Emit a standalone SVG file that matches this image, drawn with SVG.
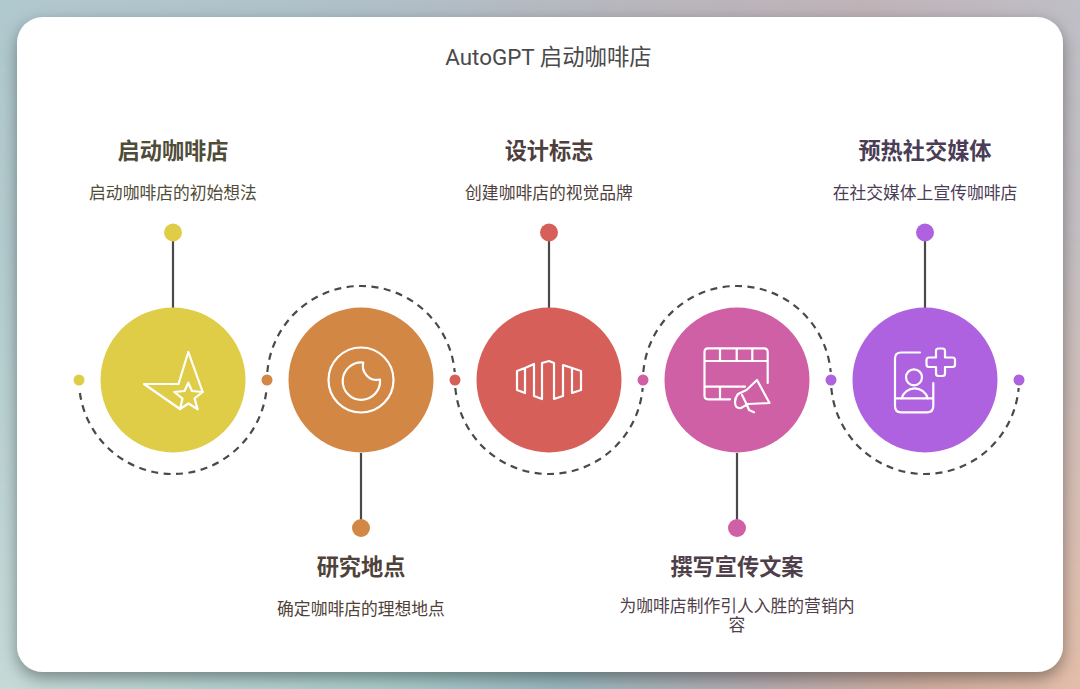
<svg xmlns="http://www.w3.org/2000/svg" width="1080" height="689" viewBox="0 0 1080 689">
<style>
text{font-family:"Roboto","Noto Sans CJK SC",sans-serif;text-anchor:middle}
.t{font-size:22.2px;font-weight:700}
.d{font-size:16.8px}
.st{fill:none;stroke:#fff;stroke-width:2.2;stroke-linejoin:round;stroke-linecap:round}
.arc{fill:none;stroke:#4a4a4a;stroke-width:2.2;stroke-dasharray:7 5.500}
.stem{stroke:#4a4a4a;stroke-width:2.2}
</style>
<defs>
<linearGradient id="bg" x1="0" y1="0" x2="1" y2="0">
<stop offset="0" stop-color="#b0c9ce"/><stop offset=".35" stop-color="#b0bfc8"/><stop offset=".6" stop-color="#b8b6bc"/><stop offset=".8" stop-color="#bfb3b8"/><stop offset="1" stop-color="#bfbfc6"/>
</linearGradient>
<linearGradient id="bg2" x1="0" y1="0" x2="1" y2="0">
<stop offset="0" stop-color="#c5dad7"/><stop offset=".35" stop-color="#a9cdcb"/><stop offset=".52" stop-color="#98b8bf"/><stop offset=".7" stop-color="#b4abb0"/><stop offset=".85" stop-color="#d0ae9f"/><stop offset="1" stop-color="#e3bda8"/>
</linearGradient>
<linearGradient id="fade" x1="0" y1="0" x2="0" y2="1"><stop offset="0" stop-color="#000"/><stop offset=".35" stop-color="#222"/><stop offset="1" stop-color="#fff"/></linearGradient>
<mask id="m"><rect width="1080" height="689" fill="url(#fade)"/></mask>
<filter id="sh" x="-5%" y="-5%" width="110%" height="110%"><feDropShadow dx="0" dy="6" stdDeviation="8" flood-color="#000" flood-opacity=".38"/></filter>
</defs>
<rect width="1080" height="689" fill="url(#bg)"/>
<rect width="1080" height="689" fill="url(#bg2)" mask="url(#m)"/>
<rect x="17" y="17" width="1046" height="655" rx="26" fill="#fff" filter="url(#sh)"/>
<text x="548.500" y="65" font-size="22.400" fill="#4a4a4a">AutoGPT 启动咖啡店</text>
<g id="connectors">
<path class="arc" d="M79.900 393A94 94 0 0 0 266.660 388"/>
<path class="arc" d="M267.340 372A94 94 0 0 1 454.660 372"/>
<path class="arc" d="M455.340 388A94 94 0 0 0 642.660 388"/>
<path class="arc" d="M643.340 372A94 94 0 0 1 830.660 372"/>
<path class="arc" d="M831.340 388A94 94 0 0 0 1018.660 388"/>
<path class="stem" d="M173 232V308M361 453V528M549 232V308M737 453V528M925 232V308"/>
</g>
<g id="node1">
<circle cx="79" cy="380" r="5.500" fill="#dfcd48"/>
<circle cx="173" cy="232.500" r="9" fill="#dfcd48"/>
<circle cx="173" cy="380" r="72.500" fill="#dfcd48"/>
<path class="st" d="M178.500 384H144L180 409M178.500 384L188.300 352L202.700 392"/>
<path class="st" d="M188.300 382.700L192 391L202.500 392L194.500 398.500L197.700 409.300L188.500 403.500L180 409L182.500 398.500L174.300 392L184.500 391Z"/>
<text class="t" x="173" y="159" fill="#4f4c38">启动咖啡店</text>
<text class="d" x="173" y="198.500" fill="#4f4c38">启动咖啡店的初始想法</text>
</g>
<g id="node2">
<circle cx="267" cy="380" r="5.500" fill="#d38745"/>
<circle cx="361" cy="528" r="9" fill="#d38745"/>
<circle cx="361" cy="380" r="72.500" fill="#d38745"/>
<circle class="st" cx="361" cy="380" r="32.500"/>
<path class="st" d="M363.300 362.500A18.700 18.700 0 1 0 380 379.500A14 14 0 0 1 363.300 362.500Z"/>
<text class="t" x="361" y="575" fill="#4f4238">研究地点</text>
<text class="d" x="361" y="614.500" fill="#4f4238">确定咖啡店的理想地点</text>
</g>
<g id="node3">
<circle cx="455" cy="380" r="5.500" fill="#d65f59"/>
<circle cx="549" cy="232.500" r="9" fill="#d65f59"/>
<circle cx="549" cy="380" r="72.500" fill="#d65f59"/>
<path class="st" d="M517 371V390L525 393V368L534 364V396L542 399V363L549 361L554 363V399L563 396V365L572 368V393L581 390V371L572 368M517 371L525 368"/>
<text class="t" x="549" y="159" fill="#4f3f3c">设计标志</text>
<text class="d" x="549" y="198.500" fill="#4f3f3c">创建咖啡店的视觉品牌</text>
</g>
<g id="node4">
<circle cx="643" cy="380" r="5.500" fill="#cf60a5"/>
<circle cx="737" cy="528" r="9" fill="#cf60a5"/>
<circle cx="737" cy="380" r="72.500" fill="#cf60a5"/>
<path class="st" d="M730 399.300H708Q704.500 399.300 704.500 395.500V352Q704.500 348.300 708 348.300H764Q767.700 348.300 767.700 352V383M704.500 361H767.700M704.500 386.700H745M720 348.300V361M736.700 348.300V361M752.300 348.300V361M720 386.700V399.300"/>
<path class="st" d="M757 380L769.500 403L748 404L741 408Q735 409 735 402Q735 398 738 394L746.500 390ZM742 395L747 405L749 410L754 412.300"/>
<text class="t" x="737" y="575" fill="#4f3f4a">撰写宣传文案</text>
<text class="d" x="737" y="612" fill="#4f3f4a">为咖啡店制作引人入胜的营销内</text>
<text class="d" x="737" y="631" fill="#4f3f4a">容</text>
</g>
<g id="node5">
<circle cx="831" cy="380" r="5.500" fill="#ae62df"/>
<circle cx="1019" cy="380" r="5.500" fill="#ae62df"/>
<circle cx="925" cy="232.500" r="9" fill="#ae62df"/>
<circle cx="925" cy="380" r="72.500" fill="#ae62df"/>
<path class="st" d="M920 352.500H901Q895 352.500 895 358.500V406Q895 412.300 901 412.300H927Q933.300 412.300 933.300 406V383M895 398.300H933.300"/>
<circle class="st" cx="914" cy="377.300" r="8"/>
<path class="st" d="M901.700 398.300A13.500 13.500 0 0 1 927.700 398.300"/>
<path class="st" d="M936 351Q936 348.500 938.500 348.500H942.500Q945 348.500 945 351V357.500H952.500Q955 357.500 955 360V364.500Q955 367 952.500 367H945V373.500Q945 376 942.500 376H938.500Q936 376 936 373.500V367H929Q926.500 367 926.500 364.500V360Q926.500 357.500 929 357.500H936Z"/>
<text class="t" x="925" y="159" fill="#4a3d55">预热社交媒体</text>
<text class="d" x="925" y="198.500" fill="#4a3d55">在社交媒体上宣传咖啡店</text>
</g>
</svg>
